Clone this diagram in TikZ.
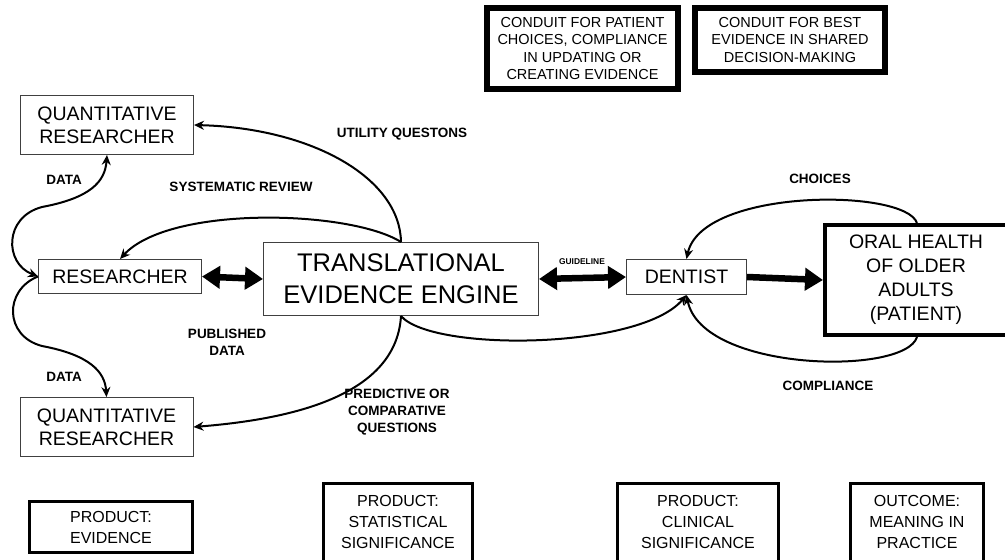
\documentclass[tikz,border=0pt]{standalone}
\usepackage{fontspec}
\setmainfont{Liberation Sans}
\usetikzlibrary{arrows.meta,calc}

\tikzset{
  box/.style={rectangle, inner sep=0pt, align=center, fill=white},
  thinbox/.style={box, draw=black!75, line width=1pt, font=\fontsize{19.5}{23}\selectfont},
  bigbox/.style={box, draw=black!75, line width=1pt, font=\fontsize{25.5}{32}\selectfont},
  patientbox/.style={box, draw=black, line width=4pt, font=\fontsize{19.5}{24}\selectfont},
  conduit/.style={box, draw=black, line width=6pt, font=\fontsize{14.5}{17.3}\selectfont},
  product/.style={box, draw=black, line width=3pt, font=\fontsize{16}{21}\selectfont},
  lbl/.style={inner sep=0pt, align=center, font=\bfseries\fontsize{13.5}{16.7}\selectfont},
  flow/.style={line width=2pt, -{Stealth[length=10pt,width=9pt]}},
  flowboth/.style={line width=2pt, {Stealth[length=10pt,width=9pt]}-{Stealth[length=10pt,width=9pt]}},
  fat/.style={line width=6.5pt, -{Triangle[length=18pt,width=22pt]}},
  fatboth/.style={line width=6.5pt, {Triangle[length=18pt,width=22pt]}-{Triangle[length=18pt,width=22pt]}},
}

\begin{document}
\begin{tikzpicture}[x=1pt,y=-1pt]
\useasboundingbox (0,0) rectangle (1005,560);
\clip (0,0) rectangle (1005,560);

% ---- main actors ----
\node[thinbox, minimum width=173pt, minimum height=59pt] (q1) at (107,125) {QUANTITATIVE\\RESEARCHER};
\node[thinbox, minimum width=173pt, minimum height=59pt] (q2) at (106.5,427) {QUANTITATIVE\\RESEARCHER};
\node[thinbox, minimum width=163pt, minimum height=34pt] (res) at (120,276.5) {RESEARCHER};
\node[bigbox, minimum width=275pt, minimum height=73pt] (tee) at (401,279) {TRANSLATIONAL\\EVIDENCE ENGINE};
\node[thinbox, minimum width=120pt, minimum height=35pt] (den) at (686.5,277) {DENTIST};
\node[patientbox, minimum width=190pt, minimum height=110pt] (oral) at (920,280)
  {\hspace*{-8pt}ORAL HEALTH\\\hspace*{-8pt}OF OLDER\\\hspace*{-8pt}ADULTS\\\hspace*{-8pt}(PATIENT)};

% ---- conduit notes ----
\node[conduit, minimum width=191pt, minimum height=81pt] (c1) at (582.5,48.5) {CONDUIT FOR PATIENT\\CHOICES, COMPLIANCE\\IN UPDATING OR\\CREATING EVIDENCE};
\node[conduit, minimum width=190pt, minimum height=64pt] (c2) at (790,40) {CONDUIT FOR BEST\\EVIDENCE IN SHARED\\DECISION-MAKING};

% ---- products ----
\node[product, minimum width=163pt, minimum height=51pt] (pe) at (111,527) {PRODUCT:\\EVIDENCE};
\node[product, minimum width=149pt, minimum height=77.5pt] (ps) at (398,522.3) {PRODUCT:\\STATISTICAL\\SIGNIFICANCE};
\node[product, minimum width=161pt, minimum height=77.5pt] (pc) at (698,522.3) {PRODUCT:\\CLINICAL\\SIGNIFICANCE};
\node[product, minimum width=133pt, minimum height=77.5pt] (po) at (917,522.3) {OUTCOME:\\MEANING IN\\PRACTICE};

% ---- waypoints of the data loops ----
\coordinate (dtop) at (42,207);
\coordinate (dbot) at (42,346);

% ---- connectors ----
\draw[flow] (tee.north) .. controls (400,178) and (312,128) .. (q1.east);
\draw[flow] (tee.north) .. controls (350,210) and (170,205) .. (res.north);
\draw[fatboth] (res.east) -- (tee.west);

\draw[flowboth] (res.west) .. controls (4,263) and (4,217) .. (dtop)
                           .. controls (90,198) and (105,182) .. (q1.south);
\draw[flow] (res.west) .. controls (4,290) and (4,336) .. (dbot)
                       .. controls (90,355) and (105,372) .. (q2.north);

\draw[flow] (tee.south) .. controls (396,400) and (280,420) .. (q2.east);
\draw[flow] (tee.south) .. controls (432,352) and (640,350) .. (den.south);

\draw[fatboth] (tee.east) -- (den.west);
\draw[fat] (den.east) -- (oral.west);

\draw[flow] ($(oral.north)+(-3,0)$) .. controls (905,188) and (702,188) .. (den.north);
\draw[flow] ($(oral.south)+(-3,0)$) .. controls (905,376) and (702,372) .. (den.south);

% ---- labels ----
\node[lbl] (lutil) at (402,134) {UTILITY QUESTONS};
\node[lbl] (lsys) at (241,187) {SYSTEMATIC REVIEW};
\node[lbl] (ldata1) at (64,180) {DATA};
\node[lbl] (ldata2) at (64,377) {DATA};
\node[lbl] (lpub) at (227,342) {PUBLISHED\\DATA};
\node[lbl] (lpred) at (397,412) {PREDICTIVE OR\\COMPARATIVE\\QUESTIONS};
\node[inner sep=0pt, font=\bfseries\fontsize{8.4}{10}\selectfont] (lguide) at (582,262) {GUIDELINE};
\node[lbl] (lchoice) at (820,179) {CHOICES};
\node[lbl] (lcomp) at (828,386) {COMPLIANCE};
\end{tikzpicture}
\end{document}
